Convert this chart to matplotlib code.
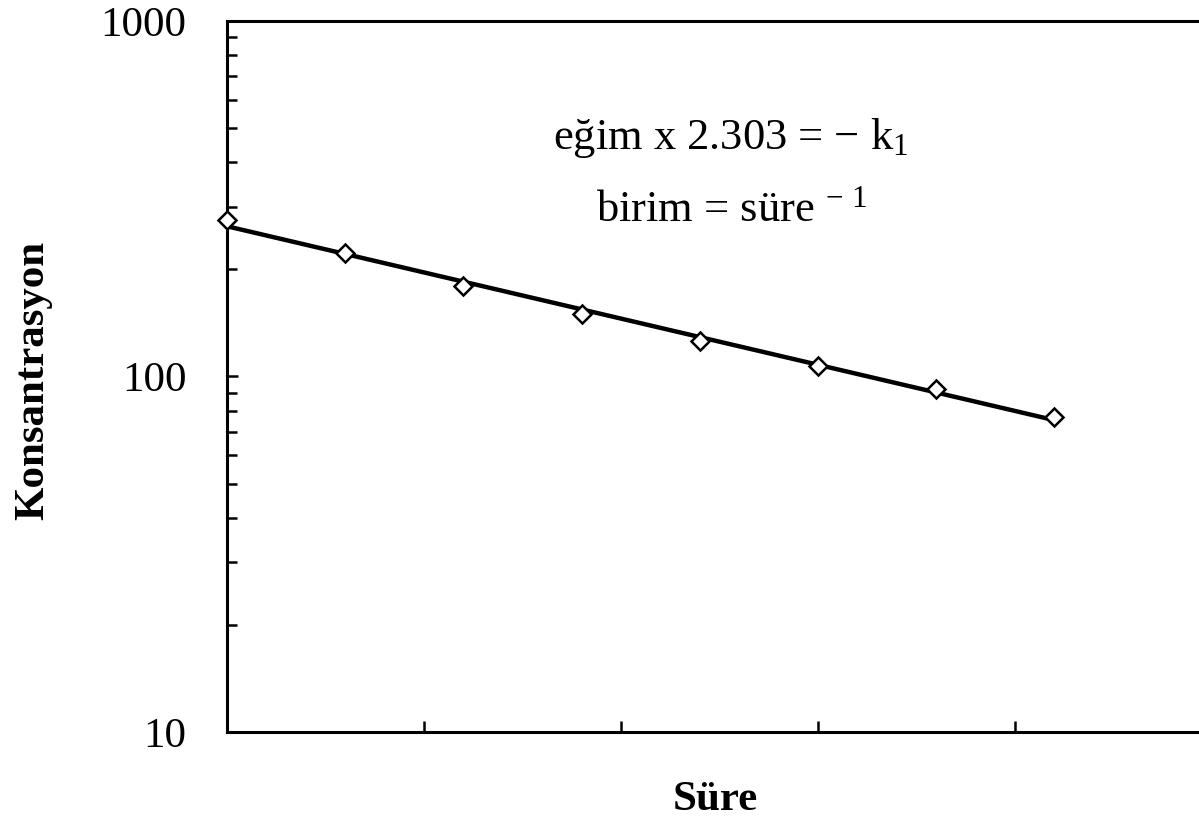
import numpy as np
import matplotlib
matplotlib.use("Agg")
import matplotlib.pyplot as plt

# Veriler
sure = [0, 3, 6, 9, 12, 15, 18, 21]
konsantrasyon = [275, 223, 180, 150, 126, 107, 92, 77]
x_ticks = [5, 10, 15, 20]
y_ticks = [10, 100, 1000]
y_tick_labels = ["10", "100", "1000"]

plt.rcParams['font.family'] = ['Liberation Serif', 'DejaVu Serif']
plt.rcParams['mathtext.fontset'] = 'custom'
plt.rcParams['mathtext.rm'] = 'Liberation Serif'
plt.rcParams['mathtext.it'] = 'Liberation Serif'

fig = plt.figure(figsize=(11.99, 8.22), dpi=100)
ax = fig.add_axes([227 / 1199, 90 / 822, 985 / 1199, 711 / 822])

# Dogrusal regresyon (log olcekte)
egim, kesen = np.polyfit(sure, np.log10(konsantrasyon), 1)
x_fit = np.array([sure[0], sure[-1]])
ax.plot(x_fit, 10 ** (kesen + egim * x_fit), color='black', lw=3.2, zorder=2)
ax.plot(sure, konsantrasyon, linestyle='none', marker='D', markersize=9,
        markerfacecolor='white', markeredgecolor='black', markeredgewidth=1.8,
        zorder=3, clip_on=False)

ax.set_yscale('log')
ax.set_ylim(10, 1000)
ax.set_xlim(0, 25)
ax.set_xticks(x_ticks)
ax.set_xticklabels([])
ax.set_yticks(y_ticks)
ax.set_yticklabels(y_tick_labels)
ax.tick_params(axis='both', which='both', direction='in', width=1.8)
ax.tick_params(axis='both', which='major', length=8)
ax.tick_params(axis='y', which='minor', length=7)
ax.tick_params(axis='y', which='major', labelsize=31, pad=29)

for s in ax.spines.values():
    s.set_linewidth(2.2)

ax.set_xlabel("Süre", fontsize=31, fontweight='bold', va='center')
ax.xaxis.set_label_coords(0.4954, -0.0956)
ax.set_ylabel("Konsantrasyon", fontsize=31, fontweight='bold', va='center')
ax.yaxis.set_label_coords(-0.197, 0.495)

ax.text(0.5117, 0.8354, r"eğim x 2.303 = $-$ k$_1$", transform=ax.transAxes,
        fontsize=32, ha='center', va='center')
ax.text(0.5117, 0.734, r"birim = süre $^{-\ 1}$", transform=ax.transAxes,
        fontsize=32, ha='center', va='center')

fig.savefig("out.png", dpi=100)
